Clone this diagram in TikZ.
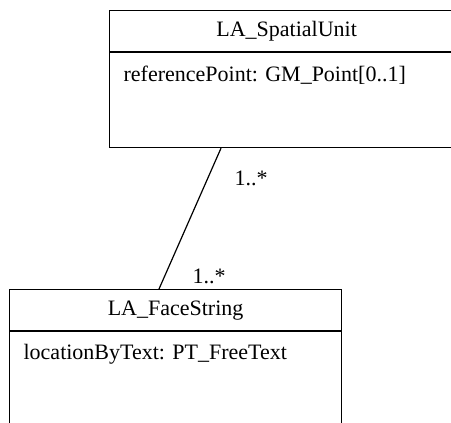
\documentclass[tikz,border=0pt]{standalone}
\usepackage{fontspec}
\setmainfont{Liberation Serif}
\usetikzlibrary{calc}
\begin{document}
\begin{tikzpicture}[x=0.5pt,y=-0.5pt, line width=0.6pt,
  classbox/.style={draw, rectangle, anchor=north west, minimum width=#1, minimum height=68.5pt, inner sep=0pt},
  uml/.style={font=\fontsize{11}{13}\selectfont},
  attr/.style={uml, anchor=base west, inner sep=0pt},
  mult/.style={uml, anchor=base west, inner sep=0pt}]
\useasboundingbox (0,0) rectangle (451,423);
% classes
\node[classbox=177pt] (su) at (109,10) {};
\node[classbox=166pt] (fs) at (9,289) {};
% compartments
\draw ($(su.north west)+(0,42)$) coordinate (sul) -- (sul -| su.east);
\draw ($(fs.north west)+(0,42)$) coordinate (fsl) -- (fsl -| fs.east);
% titles
\node[uml] (sut) at ($(su.north)+(0,21)$) {LA\_SpatialUnit};
\node[uml] (fst) at ($(fs.north)+(0,22)$) {LA\_FaceString};
% attributes
\node[attr] (sua) at ($(su.north west)+(14,72)$) {referencePoint: GM\_Point[0..1]};
\node[attr] (fsa) at ($(fs.north west)+(14,70)$) {locationByText: PT\_FreeText};
% association
\coordinate (a1) at ($(su.south west)+(112,0)$);
\coordinate (a2) at ($(fs.north west)+(150,0)$);
\draw (a1) -- (a2);
\node[mult] (m1) at (234,185) {1..*};
\node[mult] (m2) at (192,283) {1..*};
\end{tikzpicture}
\end{document}
